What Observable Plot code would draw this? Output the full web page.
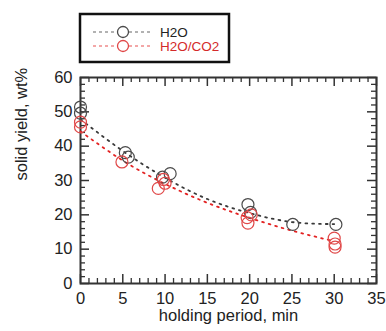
<!DOCTYPE html>
<html>
<head>
<meta charset="utf-8">
<script src="https://cdn.jsdelivr.net/npm/d3@7"></script>
<script src="https://cdn.jsdelivr.net/npm/@observablehq/plot@0.6"></script>
<style>
  html, body { margin: 0; padding: 0; background: #fff; }
  #wrap { position: relative; width: 386px; height: 331px; font-family: "Liberation Sans", Arial, sans-serif; }
  #legend { position: absolute; left: 0; top: 0; pointer-events: none; }
</style>
</head>
<body>
<div id="wrap"></div>
<script>
// ---- data ----
const seriesNames = ["H2O", "H2O/CO2"];
const seriesColors = ["#4a4a4a", "#e04848"];
const lineColors = ["#3a3a3a", "#e32222"];

const h2oX = [0, 0, 5.3, 5.65, 9.7, 10.6, 19.8, 20.1, 25.1, 30.2];
const h2oY = [51.4, 49.6, 38.1, 36.8, 31.0, 32.0, 23.0, 20.7, 17.2, 17.2];
const co2X = [0, 0, 4.9, 9.2, 9.8, 10.0, 19.7, 20.2, 19.8, 30.0, 30.1, 30.1];
const co2Y = [47.0, 45.6, 35.4, 27.7, 30.3, 29.2, 19.2, 20.0, 17.6, 13.2, 11.5, 10.6];

const fitX = [0, 5, 10, 15, 20, 25, 30];
const h2oFit = [47.8, 38.6, 30.8, 24.6, 20.5, 17.9, 17.3];
const co2Fit = [44.3, 35.8, 29.0, 23.5, 19.1, 15.4, 12.3];

const xMajor = [0, 5, 10, 15, 20, 25, 30, 35];
const yMajor = [0, 10, 20, 30, 40, 50, 60];
const xMinor = d3.range(0, 36, 1).filter(v => v % 5 !== 0);
const yMinor = d3.range(0, 61, 2).filter(v => v % 10 !== 0);

const xLabel = "holding period, min";
const yLabel = "solid yield, wt%";

// ---- tables ----
const points = [
  ...h2oX.map((x, i) => ({x, y: h2oY[i], s: seriesNames[0]})),
  ...co2X.map((x, i) => ({x, y: co2Y[i], s: seriesNames[1]}))
];
const fits = [
  ...fitX.map((x, i) => ({x, y: h2oFit[i], s: seriesNames[0]})),
  ...fitX.map((x, i) => ({x, y: co2Fit[i], s: seriesNames[1]}))
];

const W = 386, H = 331;
const mL = 80, mR = 10, mT = 77, mB = 48;
const fh = H - mT - mB, fw = W - mL - mR;
const majLen = 9, minLen = 5;
const frameColor = "#333";
const fs = 16.5;

const chart = Plot.plot({
  width: W, height: H,
  marginLeft: mL, marginRight: mR, marginTop: mT, marginBottom: mB,
  style: { fontFamily: "Liberation Sans, Arial, sans-serif", fontSize: fs + "px", color: "#222", background: "#fff" },
  x: { domain: [0, 35] },
  y: { domain: [0, 60] },
  color: { domain: seriesNames, range: seriesColors },
  marks: [
    Plot.axisX(xMajor, { tickSize: 0, tickPadding: 9, fontSize: fs, label: null }),
    Plot.axisY(yMajor, { tickSize: 0, tickPadding: 8, fontSize: fs, label: null }),
    // inward ticks on all four sides
    Plot.tickX(xMajor, { x: d => d, insetTop: fh - majLen, stroke: frameColor, strokeWidth: 1.5 }),
    Plot.tickX(xMajor, { x: d => d, insetBottom: fh - majLen, stroke: frameColor, strokeWidth: 1.5 }),
    Plot.tickX(xMinor, { x: d => d, insetTop: fh - minLen, stroke: frameColor, strokeWidth: 1.3 }),
    Plot.tickX(xMinor, { x: d => d, insetBottom: fh - minLen, stroke: frameColor, strokeWidth: 1.3 }),
    Plot.tickY(yMajor, { y: d => d, insetRight: fw - majLen, stroke: frameColor, strokeWidth: 1.5 }),
    Plot.tickY(yMajor, { y: d => d, insetLeft: fw - majLen, stroke: frameColor, strokeWidth: 1.5 }),
    Plot.tickY(yMinor, { y: d => d, insetRight: fw - minLen, stroke: frameColor, strokeWidth: 1.3 }),
    Plot.tickY(yMinor, { y: d => d, insetLeft: fw - minLen, stroke: frameColor, strokeWidth: 1.3 }),
    Plot.frame({ stroke: frameColor, strokeWidth: 2 }),
    // fitted curves
    Plot.line(fits.filter(d => d.s === seriesNames[0]), { x: "x", y: "y", curve: "natural", stroke: lineColors[0], strokeWidth: 1.8, strokeDasharray: "1.8,5", strokeLinecap: "round" }),
    Plot.line(fits.filter(d => d.s === seriesNames[1]), { x: "x", y: "y", curve: "natural", stroke: lineColors[1], strokeWidth: 1.8, strokeDasharray: "1.8,5", strokeLinecap: "round" }),
    // data points
    Plot.dot(points, { x: "x", y: "y", stroke: "s", r: 6, strokeWidth: 1.2, fill: "none" }),
    // axis labels
    Plot.text([xLabel], { frameAnchor: "bottom", dy: 37, text: d => d, fontSize: fs, fill: "#222" }),
    Plot.text([yLabel], { frameAnchor: "left", dx: -59, rotate: -90, text: d => d, fontSize: fs, fill: "#222" })
  ]
});

const wrap = document.getElementById("wrap");
wrap.appendChild(chart);

// ---- legend ----
const leg = d3.select(wrap).append("svg").attr("id", "legend").attr("width", W).attr("height", 70);
leg.append("rect").attr("x", 80).attr("y", 14).attr("width", 149).attr("height", 48)
  .attr("fill", "#fff").attr("stroke", "#111").attr("stroke-width", 2.5);
seriesNames.forEach((name, i) => {
  const cy = 32 + i * 14;
  const lc = i === 0 ? "#666" : "#e85050";
  leg.append("line").attr("x1", 93).attr("x2", 117).attr("y1", cy).attr("y2", cy)
    .attr("stroke", lc).attr("stroke-width", 1.2).attr("stroke-dasharray", "3,3");
  leg.append("line").attr("x1", 129).attr("x2", 153).attr("y1", cy).attr("y2", cy)
    .attr("stroke", lc).attr("stroke-width", 1.2).attr("stroke-dasharray", "3,3");
  leg.append("circle").attr("cx", 123).attr("cy", cy).attr("r", 5.5)
    .attr("fill", "#fff").attr("stroke", seriesColors[i]).attr("stroke-width", 1.3);
  leg.append("text").attr("x", 160).attr("y", cy + 5).text(name)
    .attr("font-family", "Liberation Sans, Arial, sans-serif").attr("font-size", 13.5)
    .attr("fill", i === 0 ? "#222" : "#d42a2a");
});
</script>
</body>
</html>
